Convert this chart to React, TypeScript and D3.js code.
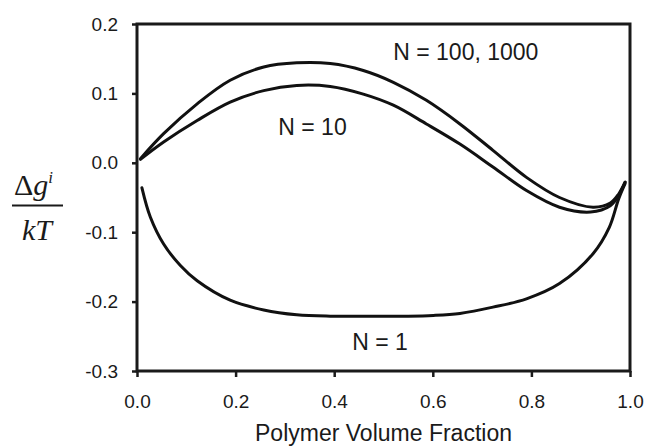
import React, { useEffect, useRef } from "react";
import * as d3 from "d3";

// polymer volume fraction (x) and free energy (y)
const phiHigh = [0.007, 0.054, 0.122, 0.189, 0.257, 0.324, 0.392, 0.459, 0.52, 0.587, 0.655, 0.722, 0.79, 0.857, 0.925, 0.96, 0.977, 0.99];
const gHigh = [0.006, 0.042, 0.085, 0.119, 0.138, 0.144, 0.143, 0.133, 0.116, 0.09, 0.056, 0.018, -0.021, -0.05, -0.064, -0.058, -0.045, -0.028];

const phiTen = [0.007, 0.054, 0.122, 0.189, 0.257, 0.324, 0.392, 0.459, 0.52, 0.587, 0.655, 0.722, 0.79, 0.857, 0.92, 0.96, 0.977, 0.99];
const gTen = [0.005, 0.03, 0.061, 0.0875, 0.104, 0.1115, 0.11, 0.099, 0.083, 0.056, 0.027, -0.006, -0.04, -0.064, -0.071, -0.062, -0.047, -0.028];

const phiOne = [0.01, 0.027, 0.054, 0.088, 0.122, 0.189, 0.257, 0.324, 0.392, 0.473, 0.55, 0.601, 0.655, 0.722, 0.79, 0.857, 0.925, 0.958, 0.977, 0.99];
const gOne = [-0.036, -0.078, -0.117, -0.148, -0.17, -0.198, -0.212, -0.219, -0.221, -0.221, -0.221, -0.22, -0.217, -0.208, -0.196, -0.174, -0.131, -0.093, -0.052, -0.03];

const xTicks = [0, 0.2, 0.4, 0.6, 0.8, 1.0];
const yTicks = [0.2, 0.1, 0, -0.1, -0.2, -0.3];

const curves = [
  { label: "N = 100, 1000", xs: phiHigh, ys: gHigh, lx: 0.667, ly: 0.148 },
  { label: "N = 10", xs: phiTen, ys: gTen, lx: 0.356, ly: 0.04 },
  { label: "N = 1", xs: phiOne, ys: gOne, lx: 0.493, ly: -0.27 },
];

const width = 646;
const height = 447;
const margin = { top: 24, right: 16, bottom: 76, left: 137 };

const App = () => {
  const ref = useRef<SVGSVGElement>(null);

  useEffect(() => {
    const svg = d3.select(ref.current);
    svg.selectAll("*").remove();

    const x = d3.scaleLinear().domain([0, 1]).range([margin.left, width - margin.right]);
    const y = d3.scaleLinear().domain([-0.3, 0.2]).range([height - margin.bottom, margin.top]);
    const font = "'Liberation Sans', Arial, Helvetica, sans-serif";

    // frame
    svg
      .append("rect")
      .attr("x", x(0))
      .attr("y", y(0.2))
      .attr("width", x(1) - x(0))
      .attr("height", y(-0.3) - y(0.2))
      .attr("fill", "none")
      .attr("stroke", "#1a1a1a")
      .attr("stroke-width", 3);

    const xAxis = svg
      .append("g")
      .attr("transform", `translate(0,${y(-0.3)})`)
      .call(d3.axisBottom(x).tickValues(xTicks).tickSize(6).tickFormat(d3.format(".1f")));
    xAxis.select(".domain").remove();
    xAxis.selectAll("line").attr("stroke", "#1a1a1a").attr("stroke-width", 2.5);
    xAxis
      .selectAll("text")
      .attr("font-family", font)
      .attr("font-size", 19)
      .attr("fill", "#1a1a1a")
      .attr("dy", "1.45em");

    const yAxis = svg
      .append("g")
      .attr("transform", `translate(${x(0)},0)`)
      .call(d3.axisLeft(y).tickValues(yTicks).tickSize(5).tickFormat(d3.format(".1f")));
    yAxis.select(".domain").remove();
    yAxis.selectAll("line").attr("stroke", "#1a1a1a").attr("stroke-width", 2.5);
    yAxis
      .selectAll("text")
      .attr("font-family", font)
      .attr("font-size", 19)
      .attr("fill", "#1a1a1a")
      .attr("x", -19)
      .text((d: any) => d3.format(".1f")(d).replace("−", "-"));

    const line = d3.line().curve(d3.curveCatmullRom.alpha(0.5));

    curves.forEach((c) => {
      const pts: [number, number][] = c.xs.map((v, i) => [x(v), y(c.ys[i])]);
      svg
        .append("path")
        .attr("d", line(pts))
        .attr("fill", "none")
        .attr("stroke", "#111")
        .attr("stroke-width", 3)
        .attr("stroke-linecap", "round");
      svg
        .append("text")
        .attr("x", x(c.lx))
        .attr("y", y(c.ly))
        .attr("text-anchor", "middle")
        .attr("font-family", font)
        .attr("font-size", 23)
        .attr("fill", "#1a1a1a")
        .text(c.label);
    });

    // axis title
    svg
      .append("text")
      .attr("x", (x(0) + x(1)) / 2)
      .attr("y", 441)
      .attr("text-anchor", "middle")
      .attr("font-family", font)
      .attr("font-size", 23)
      .attr("fill", "#1a1a1a")
      .text("Polymer Volume Fraction");

    // y label as a fraction
    const serif = "'Liberation Serif', 'Times New Roman', serif";
    const num = svg
      .append("text")
      .attr("x", 14)
      .attr("y", 195)
      .attr("font-family", serif)
      .attr("font-size", 30)
      .attr("fill", "#1a1a1a");
    num.append("tspan").text("Δ");
    num.append("tspan").attr("font-style", "italic").text("g");
    num
      .append("tspan")
      .attr("font-style", "italic")
      .attr("font-size", 17)
      .attr("dy", -12)
      .text("i");
    svg
      .append("line")
      .attr("x1", 12)
      .attr("x2", 63)
      .attr("y1", 205.5)
      .attr("y2", 205.5)
      .attr("stroke", "#1a1a1a")
      .attr("stroke-width", 2);
    svg
      .append("text")
      .attr("x", 37)
      .attr("y", 240)
      .attr("text-anchor", "middle")
      .attr("font-family", serif)
      .attr("font-style", "italic")
      .attr("font-size", 30)
      .attr("fill", "#1a1a1a")
      .text("kT");
  }, []);

  return (
    <svg
      ref={ref}
      width={width}
      height={height}
      style={{ position: "absolute", left: 0, top: 0, background: "#fff" }}
    />
  );
};

export default App;
